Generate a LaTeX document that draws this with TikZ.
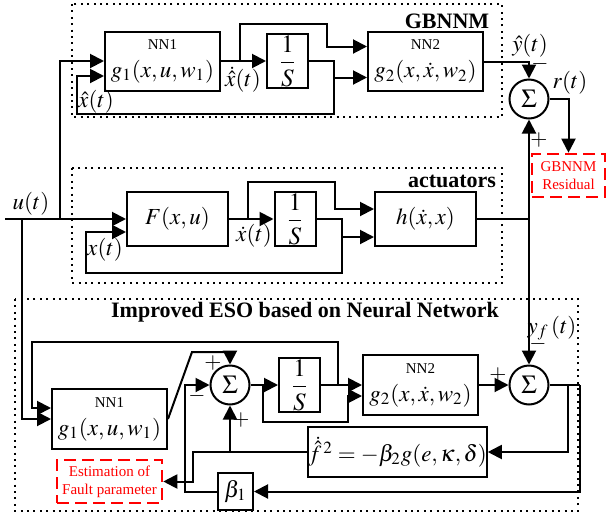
\documentclass[tikz,border=0pt]{standalone}
\usepackage{amsmath}
\usepackage{mathptmx}
\usepackage{fontspec}
\setmainfont{Liberation Serif}
\usepackage{tikz}
\usetikzlibrary{arrows.meta, positioning, calc}
\definecolor{cRes}{RGB}{255,0,0}
\tikzset{
	blk/.style   ={rectangle, draw=black, line width=1pt, inner sep=0pt, align=center},
	nnblk/.style ={blk, minimum width=57.5pt, minimum height=29.5pt},
	intblk/.style={blk, minimum width=20.5pt, minimum height=27pt, font=\fontsize{12.5}{14}\selectfont},
	sumj/.style  ={circle, draw=black, line width=1pt, minimum size=19.5pt, inner sep=0pt, font=\fontsize{13}{13}\selectfont},
	sig/.style   ={-{Triangle[length=7pt, width=7pt]}, line width=1pt},
	wire/.style  ={line width=1pt},
	grp/.style   ={line width=1pt, dash pattern=on 1pt off 2.2pt},
	grplbl/.style={font=\fontsize{11}{12}\selectfont\bfseries},
	resbox/.style={rectangle, draw=cRes, line width=1.3pt, dash pattern=on 6pt off 3pt, text=cRes, align=center, inner sep=0pt, font=\fontsize{7.5}{9}\selectfont},
	sgn/.style   ={font=\fontsize{11}{12}\selectfont, inner sep=0pt},
	lbl/.style   ={inner sep=0pt},
}
\newcommand{\nnlbl}[2]{{\fontsize{7.5}{8}\selectfont #1}\\[1pt]#2}
\newcommand{\integ}{$\displaystyle\frac{1}{S}$}

\begin{document}
\begin{tikzpicture}[x=0.5pt, y=-0.5pt, font=\fontsize{11.5}{13}\selectfont]
	\useasboundingbox (0,0) rectangle (606,515);
	% groups
	\draw[grp] (72,4) rectangle (502,117);
	\draw[grp] (72,168) rectangle (502,283);
	\draw[grp] (15,299) rectangle (578,511);
	\node[grplbl] (lblA) at (447,21) {GBNNM};
	\node[grplbl] (lblB) at (452,181) {actuators};
	\node[grplbl] (lblC) at (305,312) {Improved ESO based on Neural Network};
	% blocks
	\node[nnblk] (nnA) at (162.5,61) {\nnlbl{NN1}{$g_1(x,u,w_1)$}};
	\node[intblk] (intA) at (287.5,61) {\integ};
	\node[nnblk] (nnB) at (425.5,61.5) {\nnlbl{NN2}{$g_2(x,\dot{x},w_2)$}};
	\node[sumj] (sumA) at (529,99) {$\Sigma$};
	\node[resbox, minimum width=36.5pt, minimum height=21.5pt] (resA) at (568.5,175.5) {GBNNM\\Residual};
	\node[blk, minimum width=50.5pt, minimum height=27pt] (fblk) at (177.5,219) {$F(x,u)$};
	\node[intblk] (intB) at (295,219) {\integ};
	\node[blk, minimum width=50.5pt, minimum height=27pt] (hblk) at (425.5,219) {$h(\dot{x},x)$};
	\node[nnblk, minimum height=30pt] (nnC) at (109.5,419) {\nnlbl{NN1}{$g_1(x,u,w_1)$}};
	\node[sumj] (sumB) at (230,385) {$\Sigma$};
	\node[intblk] (intC) at (299.5,385) {\integ};
	\node[nnblk, minimum height=30pt] (nnD) at (420.5,385) {\nnlbl{NN2}{$g_2(x,\dot{x},w_2)$}};
	\node[sumj] (sumC) at (529,385) {$\Sigma$};
	\node[blk, minimum width=87.5pt, minimum height=25pt] (fest) at (397.5,452) {$\dot{\hat{f}}^{\,2}=-\beta_2 g(e,\kappa,\delta)$};
	\node[blk, minimum width=17.5pt, minimum height=18.5pt] (betab) at (235.5,491.5) {$\beta_1$};
	\node[resbox, minimum width=52.5pt, minimum height=21.5pt] (estbox) at (109.5,481.5) {Estimation of\\Fault parameter};
	% junctions
	\coordinate (uin) at (5,219);
	\coordinate (uup) at (60,219);
	\coordinate (udn) at (22,219);
	\coordinate (bA) at (240,61);
	\coordinate (tA) at (327,24);
	\coordinate (cA) at (334,61);
	\coordinate (fbA) at (77,114);
	\coordinate (bB) at (248,219);
	\coordinate (tB) at (335,182);
	\coordinate (cB) at (342,219);
	\coordinate (fbB) at (86,273);
	\coordinate (yj) at (529,219);
	\coordinate (dC) at (192,352);
	\coordinate (bC) at (263,385);
	\coordinate (lC) at (348,422);
	\coordinate (cC) at (338,385);
	\coordinate (tC) at (32,342);
	\coordinate (oC) at (568,385);
	\coordinate (rC) at (580,385);
	\coordinate (mB) at (185,491.5);
	\coordinate (fC) at (193,452);
	\coordinate (fU) at (230,452);
	% input u(t)
	\draw[sig] (uin) -- (fblk.west);
	\draw[sig] (uup) |- (nnA.west);
	\draw[sig] (udn) |- (nnC.west);
	% GBNNM
	\draw[sig] (nnA.east) -- (intA.west);
	\draw[sig] (bA) |- (tA) |- ([yshift=7.5pt]nnB.west);
	\draw[sig] (intA.east) -- (cA) |- (fbA) |- ([yshift=-7.5pt]nnA.west);
	\draw[sig] (cA) |- ([yshift=-8pt]nnB.west);
	\draw[sig] (nnB.east) -| (sumA.north);
	\draw[sig] (sumA.east) -| (resA.north);
	% actuators
	\draw[sig] (fblk.east) -- (intB.west);
	\draw[sig] (bB) |- (tB) |- ([yshift=5pt]hblk.west);
	\draw[sig] (intB.east) -- (cB) |- (fbB) |- ([yshift=-6.5pt]fblk.west);
	\draw[sig] (cB) |- ([yshift=-9pt]hblk.west);
	\draw[wire] (hblk.east) -- (yj);
	\draw[sig] (yj) -- (sumA.south);
	\draw[sig] (yj) -- (sumC.north);
	% ESO
	\draw[sig] (cC) |- (tC) |- ([yshift=5.5pt]nnC.west);
	\draw[sig] (nnC.east) -- (dC) -| (sumB.north);
	\draw[sig] (sumB.east) -- (intC.west);
	\draw[sig] (intC.east) -- (nnD.west);
	\draw[sig] (bC) |- (lC) |- ([yshift=-5.5pt]nnD.west);
	\draw[sig] (nnD.east) -- (sumC.west);
	\draw[wire] (sumC.east) -- (rC);
	\draw[sig] (oC) |- (fest.east);
	\draw[sig] (rC) |- (betab.east);
	\draw[sig] (betab.west) -- (mB) |- (sumB.west);
	\draw[sig] (fest.west) -- (fC) |- (estbox.east);
	\draw[sig] (fU) -- (sumB.south);
	% signal labels
	\node[lbl] (lu) at (31,204) {$u(t)$};
	\node[lbl] (lxhA) at (96,102) {$\hat{x}(t)$};
	\node[lbl] (lxdA) at (243,80) {$\dot{\hat{x}}(t)$};
	\node[lbl] (lyh) at (530,46) {$\hat{y}(t)$};
	\node[lbl] (lr) at (570,83) {$r(t)$};
	\node[lbl] (lxB) at (105,250) {$x(t)$};
	\node[lbl] (lxdB) at (254,236) {$\dot{x}(t)$};
	\node[lbl] (lyf) at (552,328) {$y_f\,(t)$};
	% signs
	\node[sgn] (sA1) at (540,64) {$-$};
	\node[sgn] (sA2) at (539,140) {$+$};
	\node[sgn] (sC1) at (538,344) {$-$};
	\node[sgn] (sC2) at (498,375) {$+$};
	\node[sgn] (sB1) at (213,363) {$+$};
	\node[sgn] (sB2) at (197,396) {$-$};
	\node[sgn] (sB3) at (241,420) {$+$};
\end{tikzpicture}
\end{document}
